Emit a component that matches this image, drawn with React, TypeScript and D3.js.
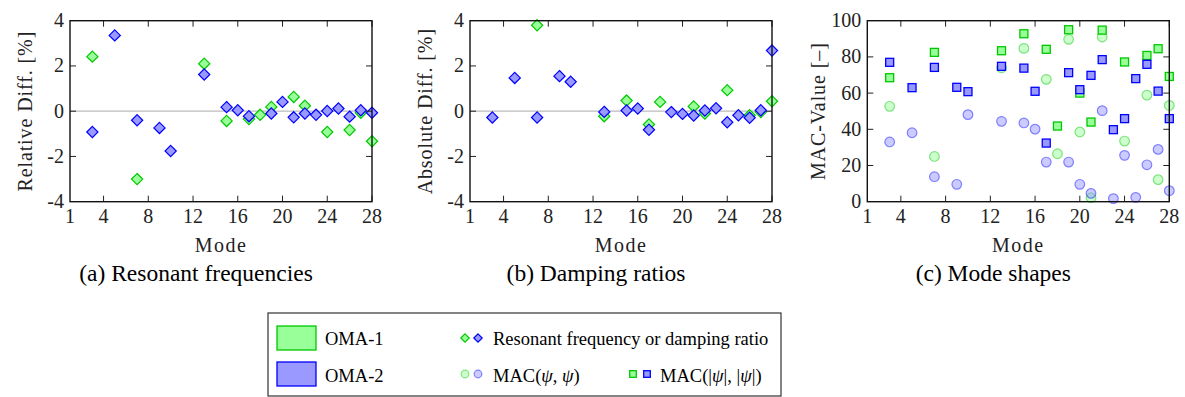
import React from "react";
import * as d3 from "d3";

// mode numbers and values
const modes1FreqA = [3, 7, 13, 15, 17, 18, 19, 21, 22, 24, 26, 27, 28];
const freqA = [2.41, -3.0, 2.1, -0.43, -0.35, -0.16, 0.19, 0.63, 0.24, -0.92, -0.83, -0.07, -1.33];
const modesFreqB = [3, 5, 7, 9, 10, 13, 15, 16, 17, 19, 20, 21, 22, 23, 24, 25, 26, 27, 28];
const freqB = [-0.92, 3.35, -0.4, -0.74, -1.76, 1.62, 0.18, 0.04, -0.22, -0.1, 0.41, -0.27, -0.1, -0.16, 0.01, 0.12, -0.24, 0.04, -0.07];

const modesDampA = [7, 13, 15, 17, 18, 21, 22, 24, 26, 27, 28];
const dampA = [3.8, -0.22, 0.47, -0.59, 0.41, 0.21, -0.1, 0.93, -0.18, -0.04, 0.44];
const modesDampB = [3, 5, 7, 9, 10, 13, 15, 16, 17, 19, 20, 21, 22, 23, 24, 25, 26, 27, 28];
const dampB = [-0.28, 1.47, -0.28, 1.55, 1.3, -0.03, 0.03, 0.12, -0.82, -0.04, -0.12, -0.19, 0.03, 0.13, -0.49, -0.18, -0.29, 0.04, 2.68];

const modesMacA = [3, 7, 13, 15, 17, 18, 19, 20, 21, 22, 24, 26, 27, 28];
const macAbsA = [68.5, 82.5, 83.4, 92.8, 84.2, 41.8, 95.0, 60.0, 44.0, 94.8, 77.2, 80.8, 84.5, 69.2];
const macA = [52.7, 25.0, 74.0, 84.7, 67.6, 26.5, 89.7, 38.5, 2.2, 91.0, 33.5, 58.9, 12.2, 53.2];
const modesMacB = [3, 5, 7, 9, 10, 13, 15, 16, 17, 19, 20, 21, 22, 23, 24, 25, 26, 27, 28];
const macAbsB = [77.0, 63.0, 74.2, 63.2, 60.8, 74.8, 73.8, 61.0, 32.4, 71.3, 61.9, 69.8, 78.5, 39.8, 45.9, 68.0, 75.9, 61.1, 45.9];
const macB = [33.0, 38.1, 13.8, 9.6, 48.1, 44.4, 43.5, 40.1, 21.9, 21.9, 9.6, 4.6, 50.3, 1.7, 25.6, 2.4, 20.4, 28.9, 6.1];

const xTicks = [1, 4, 8, 12, 16, 20, 24, 28];
const diffTicks = [-4, -2, 0, 2, 4];
const macTicks = [0, 20, 40, 60, 80, 100];

const GREEN_FILL = "#99ff99";
const GREEN_STROKE = "#00c800";
const BLUE_FILL = "#9999ff";
const BLUE_STROKE = "#0000ff";
const FONT = "'Liberation Serif', 'Times New Roman', serif";

const top = 20.7, bottom = 201.7;

const Diamond = ({ x, y, s, fill, stroke }) => (
  <path d={`M${x},${y - s}L${x + s},${y}L${x},${y + s}L${x - s},${y}Z`} fill={fill} stroke={stroke} strokeWidth={1.2} />
);

const Square = ({ x, y, s, fill, stroke }) => (
  <rect x={x - s} y={y - s} width={2 * s} height={2 * s} fill={fill} stroke={stroke} strokeWidth={1.3} />
);

const Circle = ({ x, y, r, fill, stroke }) => (
  <circle cx={x} cy={y} r={r} fill={fill} stroke={stroke} strokeWidth={1.2} opacity={0.5} />
);

function Frame({ x, y, yTicks, yLabel, labelX, caption }) {
  const [x0, x1] = x.range();
  return (
    <g fontFamily={FONT} fill="#222">
      {xTicks.slice(1).map(t => (
        <g key={t}>
          <line x1={x(t)} x2={x(t)} y1={bottom} y2={bottom - 6} stroke="#222" />
          <line x1={x(t)} x2={x(t)} y1={top} y2={top + 6} stroke="#222" />
        </g>
      ))}
      {yTicks.slice(1, -1).map(t => (
        <g key={t}>
          <line x1={x0} x2={x0 + 6} y1={y(t)} y2={y(t)} stroke="#222" />
          <line x1={x1} x2={x1 - 6} y1={y(t)} y2={y(t)} stroke="#222" />
        </g>
      ))}
      <rect x={x0} y={top} width={x1 - x0} height={bottom - top} fill="none" stroke="#111" strokeWidth={1.4} />
      {xTicks.map(t => (
        <text key={t} x={x(t)} y={222.5} textAnchor="middle" fontSize={20}>{t}</text>
      ))}
      {yTicks.map(t => (
        <text key={t} x={x0 - 6} y={y(t) + 6.5} textAnchor="end" fontSize={20}>{t}</text>
      ))}
      <text x={(x0 + x1) / 2} y={252} textAnchor="middle" fontSize={20} letterSpacing={1.5}>Mode</text>
      <text transform={`translate(${labelX},${(top + bottom) / 2}) rotate(-90)`} textAnchor="middle" fontSize={20} letterSpacing={0.9}>{yLabel}</text>
      <text x={(x0 + x1) / 2 - 25} y={281} textAnchor="middle" fontSize={23.5} fill="#000">{caption}</text>
    </g>
  );
}

function DiffPanel({ left, right, modesA, valsA, modesB, valsB, yLabel, labelX, caption }) {
  const x = d3.scaleLinear().domain([1, 28]).range([left, right]);
  const y = d3.scaleLinear().domain([-4, 4]).range([bottom, top]);
  return (
    <g>
      <line x1={left} x2={right} y1={y(0)} y2={y(0)} stroke="#bbbbbb" strokeWidth={1.2} />
      {modesA.map((m, i) => (
        <Diamond key={"a" + m} x={x(m)} y={y(valsA[i])} s={5.6} fill={GREEN_FILL} stroke={GREEN_STROKE} />
      ))}
      {modesB.map((m, i) => (
        <Diamond key={"b" + m} x={x(m)} y={y(valsB[i])} s={5.6} fill={BLUE_FILL} stroke={BLUE_STROKE} />
      ))}
      <Frame x={x} y={y} yTicks={diffTicks} yLabel={yLabel} labelX={labelX} caption={caption} />
    </g>
  );
}

function MacPanel({ left, right }) {
  const x = d3.scaleLinear().domain([1, 28]).range([left, right]);
  const y = d3.scaleLinear().domain([0, 100]).range([bottom, top]);
  return (
    <g>
      {modesMacA.map((m, i) => (
        <Circle key={"ca" + m} x={x(m)} y={y(macA[i])} r={4.8} fill={GREEN_FILL} stroke={GREEN_STROKE} />
      ))}
      {modesMacB.map((m, i) => (
        <Circle key={"cb" + m} x={x(m)} y={y(macB[i])} r={4.8} fill={BLUE_FILL} stroke={BLUE_STROKE} />
      ))}
      {modesMacA.map((m, i) => (
        <Square key={"sa" + m} x={x(m)} y={y(macAbsA[i])} s={4} fill={GREEN_FILL} stroke={GREEN_STROKE} />
      ))}
      {modesMacB.map((m, i) => (
        <Square key={"sb" + m} x={x(m)} y={y(macAbsB[i])} s={4} fill={BLUE_FILL} stroke={BLUE_STROKE} />
      ))}
      <Frame x={x} y={y} yTicks={macTicks} yLabel="MAC-Value [–]" labelX={825} caption="(c) Mode shapes" />
    </g>
  );
}

function Legend() {
  return (
    <g fontFamily={FONT} fontSize={18.5} fill="#000">
      <rect x={268} y={313} width={513} height={83} fill="white" stroke="#333" strokeWidth={1.2} />
      <rect x={277} y={326} width={39} height={24} fill={GREEN_FILL} stroke={GREEN_STROKE} strokeWidth={1.3} />
      <rect x={277} y={362} width={39} height={24} fill={BLUE_FILL} stroke={BLUE_STROKE} strokeWidth={1.3} />
      <text x={325} y={345}>OMA-1</text>
      <text x={325} y={382}>OMA-2</text>
      <Diamond x={465} y={338} s={4.2} fill={GREEN_FILL} stroke={GREEN_STROKE} />
      <Diamond x={478} y={338} s={4.2} fill={BLUE_FILL} stroke={BLUE_STROKE} />
      <text x={493} y={345}>Resonant frequency or damping ratio</text>
      <Circle x={465} y={374} r={3.8} fill={GREEN_FILL} stroke={GREEN_STROKE} />
      <Circle x={478} y={374} r={3.8} fill={BLUE_FILL} stroke={BLUE_STROKE} />
      <text x={493} y={382}>MAC(<tspan fontStyle="italic">ψ</tspan>, <tspan fontStyle="italic">ψ</tspan>)</text>
      <Square x={633} y={374} s={3.3} fill={GREEN_FILL} stroke={GREEN_STROKE} />
      <Square x={647} y={374} s={3.3} fill={BLUE_FILL} stroke={BLUE_STROKE} />
      <text x={660} y={382}>MAC(|<tspan fontStyle="italic">ψ</tspan>|, |<tspan fontStyle="italic">ψ</tspan>|)</text>
    </g>
  );
}

export default function App() {
  return (
    <svg width={1185} height={397} style={{ position: "absolute", left: 0, top: 0, background: "white" }}>
      <DiffPanel left={70} right={372} modesA={modes1FreqA} valsA={freqA} modesB={modesFreqB} valsB={freqB}
        yLabel="Relative Diff. [%]" labelX={32} caption="(a) Resonant frequencies" />
      <DiffPanel left={470} right={772} modesA={modesDampA} valsA={dampA} modesB={modesDampB} valsB={dampB}
        yLabel="Absolute Diff. [%]" labelX={432} caption="(b) Damping ratios" />
      <MacPanel left={867.3} right={1169.3} />
      <Legend />
    </svg>
  );
}
